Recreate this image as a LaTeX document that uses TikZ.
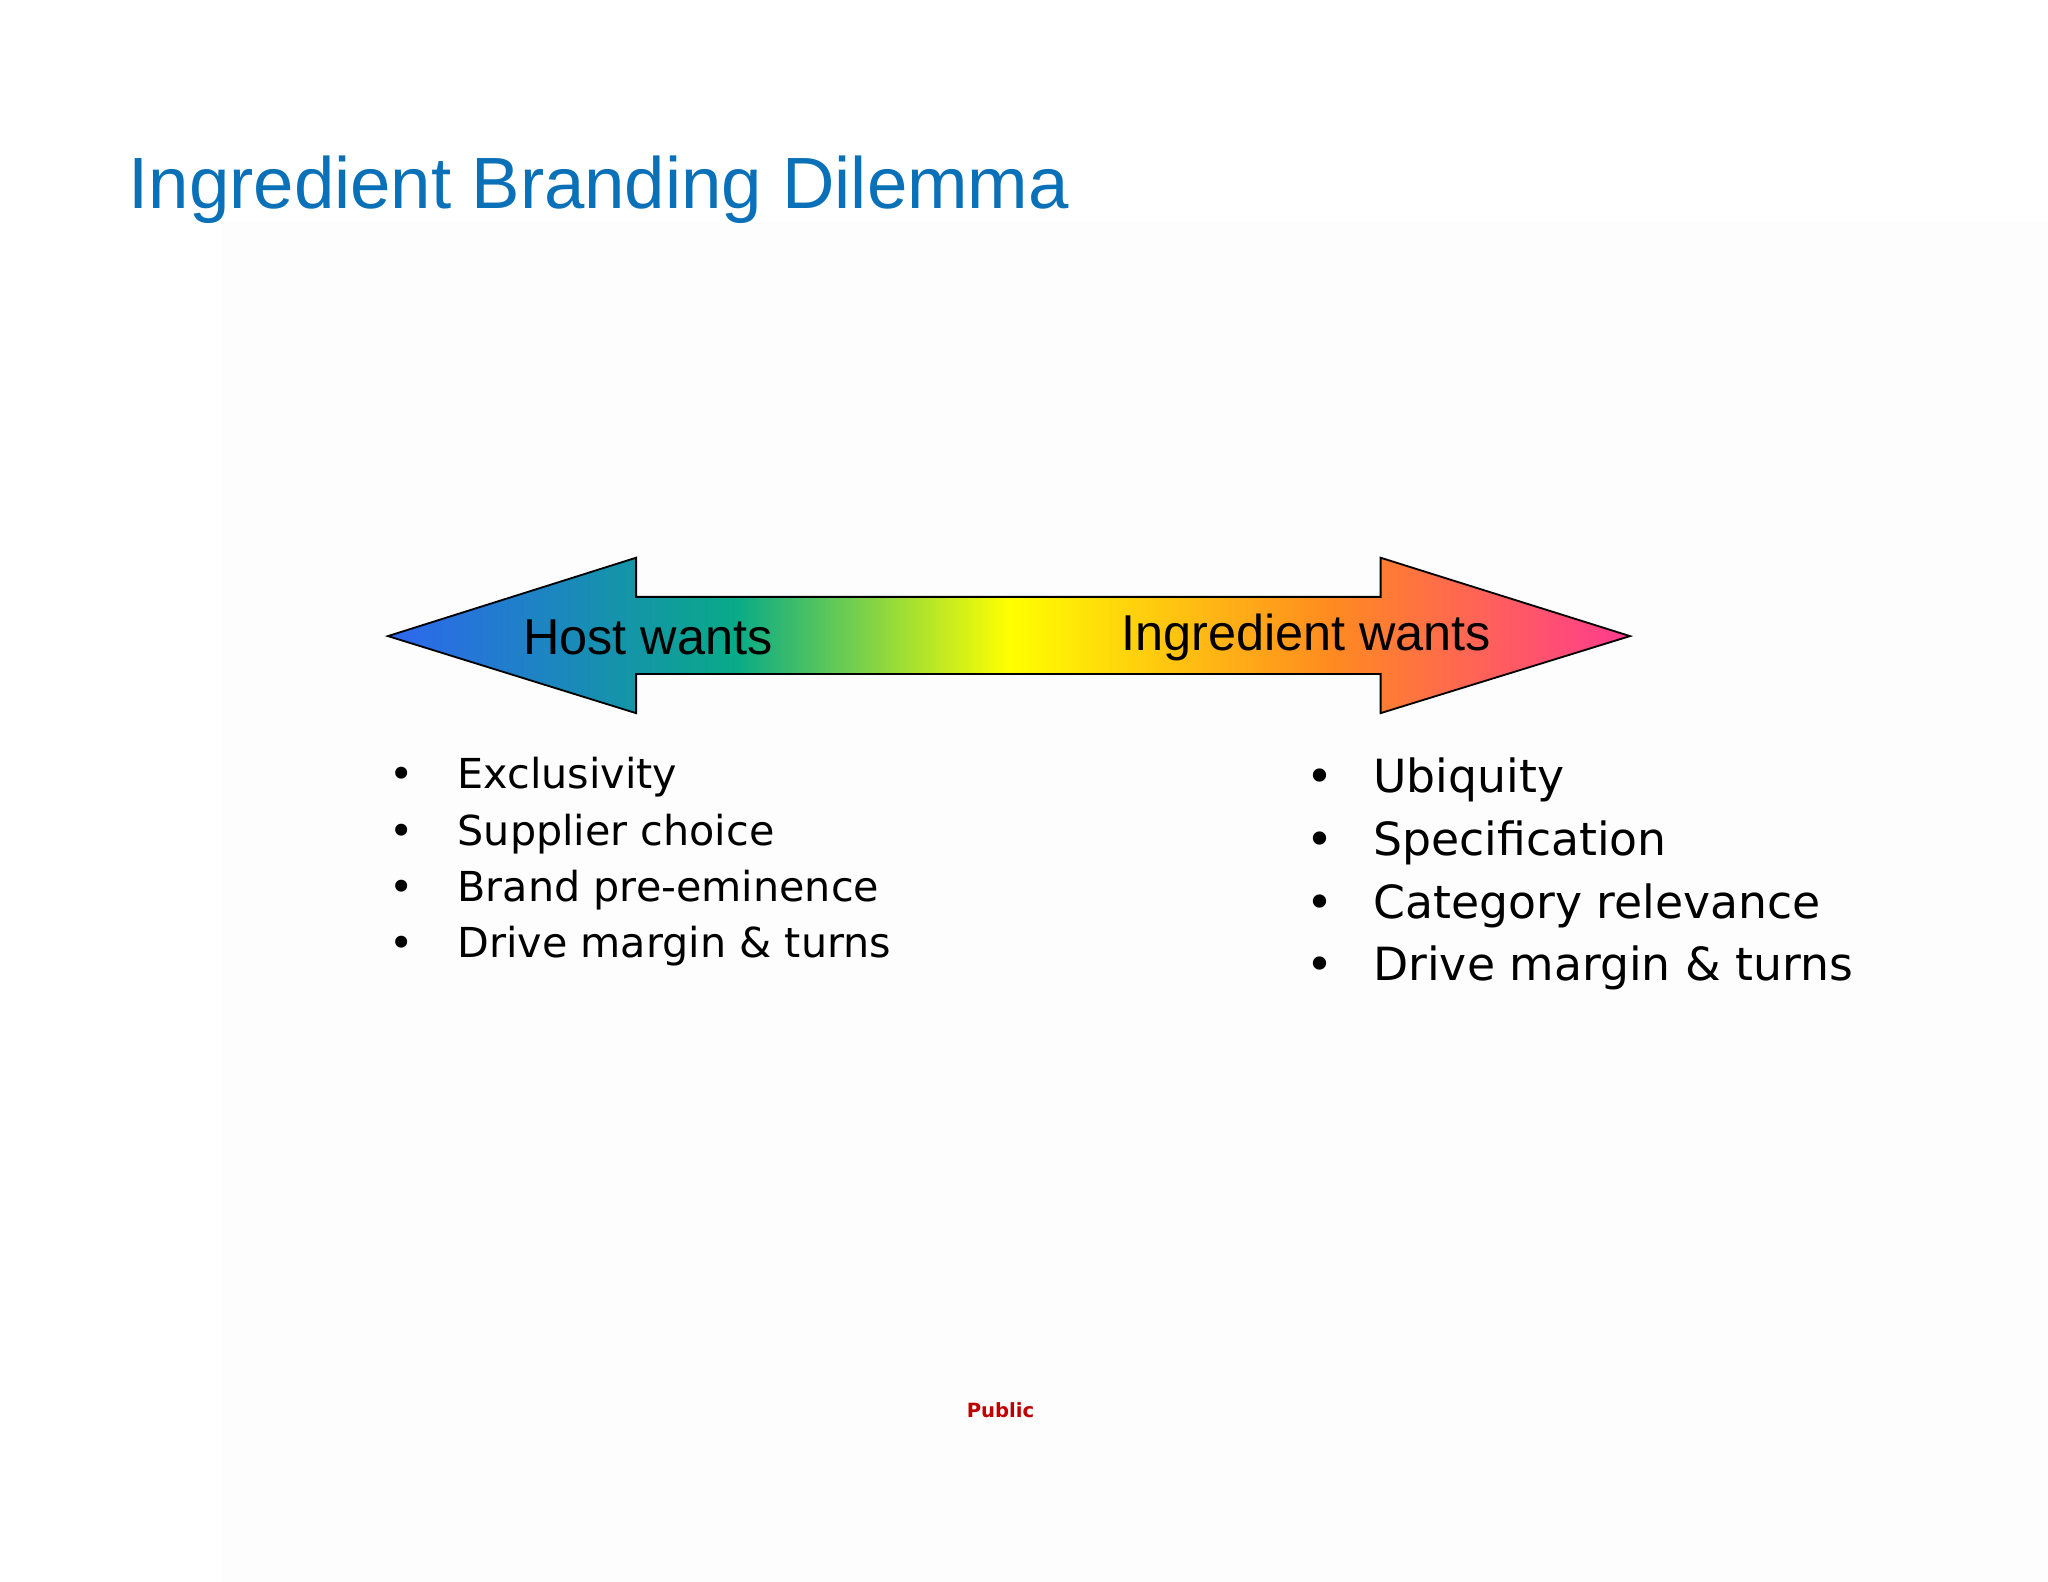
\documentclass[tikz,border=0pt]{standalone}
\usepackage{fontspec}
\setmainfont{Liberation Sans}
\newfontfamily\bulf{DejaVu Sans}
\usetikzlibrary{shadings}
\definecolor{ttl}{HTML}{0A70B8}
\definecolor{c1}{HTML}{2E66F0}
\definecolor{c2}{HTML}{08AA88}
\definecolor{c3}{HTML}{FFFF00}
\definecolor{c4}{HTML}{FF8A20}
\definecolor{c5}{HTML}{FF3A90}
\pgfdeclarehorizontalshading{rainbow}{100bp}{
color(0bp)=(c1);color(25bp)=(c1);color(39bp)=(c2);color(50bp)=(c3);color(63bp)=(c4);color(75bp)=(c5);color(100bp)=(c5)}
\tikzset{bl/.style={anchor=base west,inner sep=0pt,font=\bulf\fontsize{15.8}{18}\selectfont},
br/.style={anchor=base west,inner sep=0pt,font=\bulf\fontsize{17.5}{20}\selectfont},
lab/.style={inner sep=0pt,font=\fontsize{19.3}{22}\selectfont}}
\begin{document}
\begin{tikzpicture}[x=0.5pt,y=-0.5pt]
\useasboundingbox (0,0) rectangle (1568,1211);
\fill[white] (0,0) rectangle (1568,1211);
\fill[black!0.6] (170,170) rectangle (1568,1211);
\node[anchor=base west,inner sep=0pt,text=ttl,font=\fontsize{27.8}{34}\selectfont] (title) at (98,160) {Ingredient Branding Dilemma};
\path[shading=rainbow,draw=black,line width=0.7pt] (297,487) -- (487,427) -- (487,457) -- (1057,457) -- (1057,427) -- (1248,487) -- (1057,546) -- (1057,516) -- (487,516) -- (487,546) -- cycle;
\node[lab] (host) at (496,488) {Host wants};
\node[lab] (ingr) at (1000,488) {Ingredient wants};
\foreach \t [count=\i] in {Exclusivity,Supplier choice,Brand pre-eminence,Drive margin \& turns}{
  \node[bl] (lb\i) at (298,{604+43*(\i-1)}) {\textbullet};
  \node[bl] (l\i) at (350,{604+43*(\i-1)}) {\t};
}
\foreach \t [count=\i] in {Ubiquity,Specification,Category relevance,Drive margin \& turns}{
  \node[br] (rb\i) at (1000,{607+48*(\i-1)}) {\textbullet};
  \node[br] (r\i) at (1051,{607+48*(\i-1)}) {\t};
}
\node[inner sep=0pt,text=red!75!black,font=\bulf\bfseries\fontsize{7.5}{9}\selectfont] (pub) at (766,1080) {Public};
\end{tikzpicture}
\end{document}
